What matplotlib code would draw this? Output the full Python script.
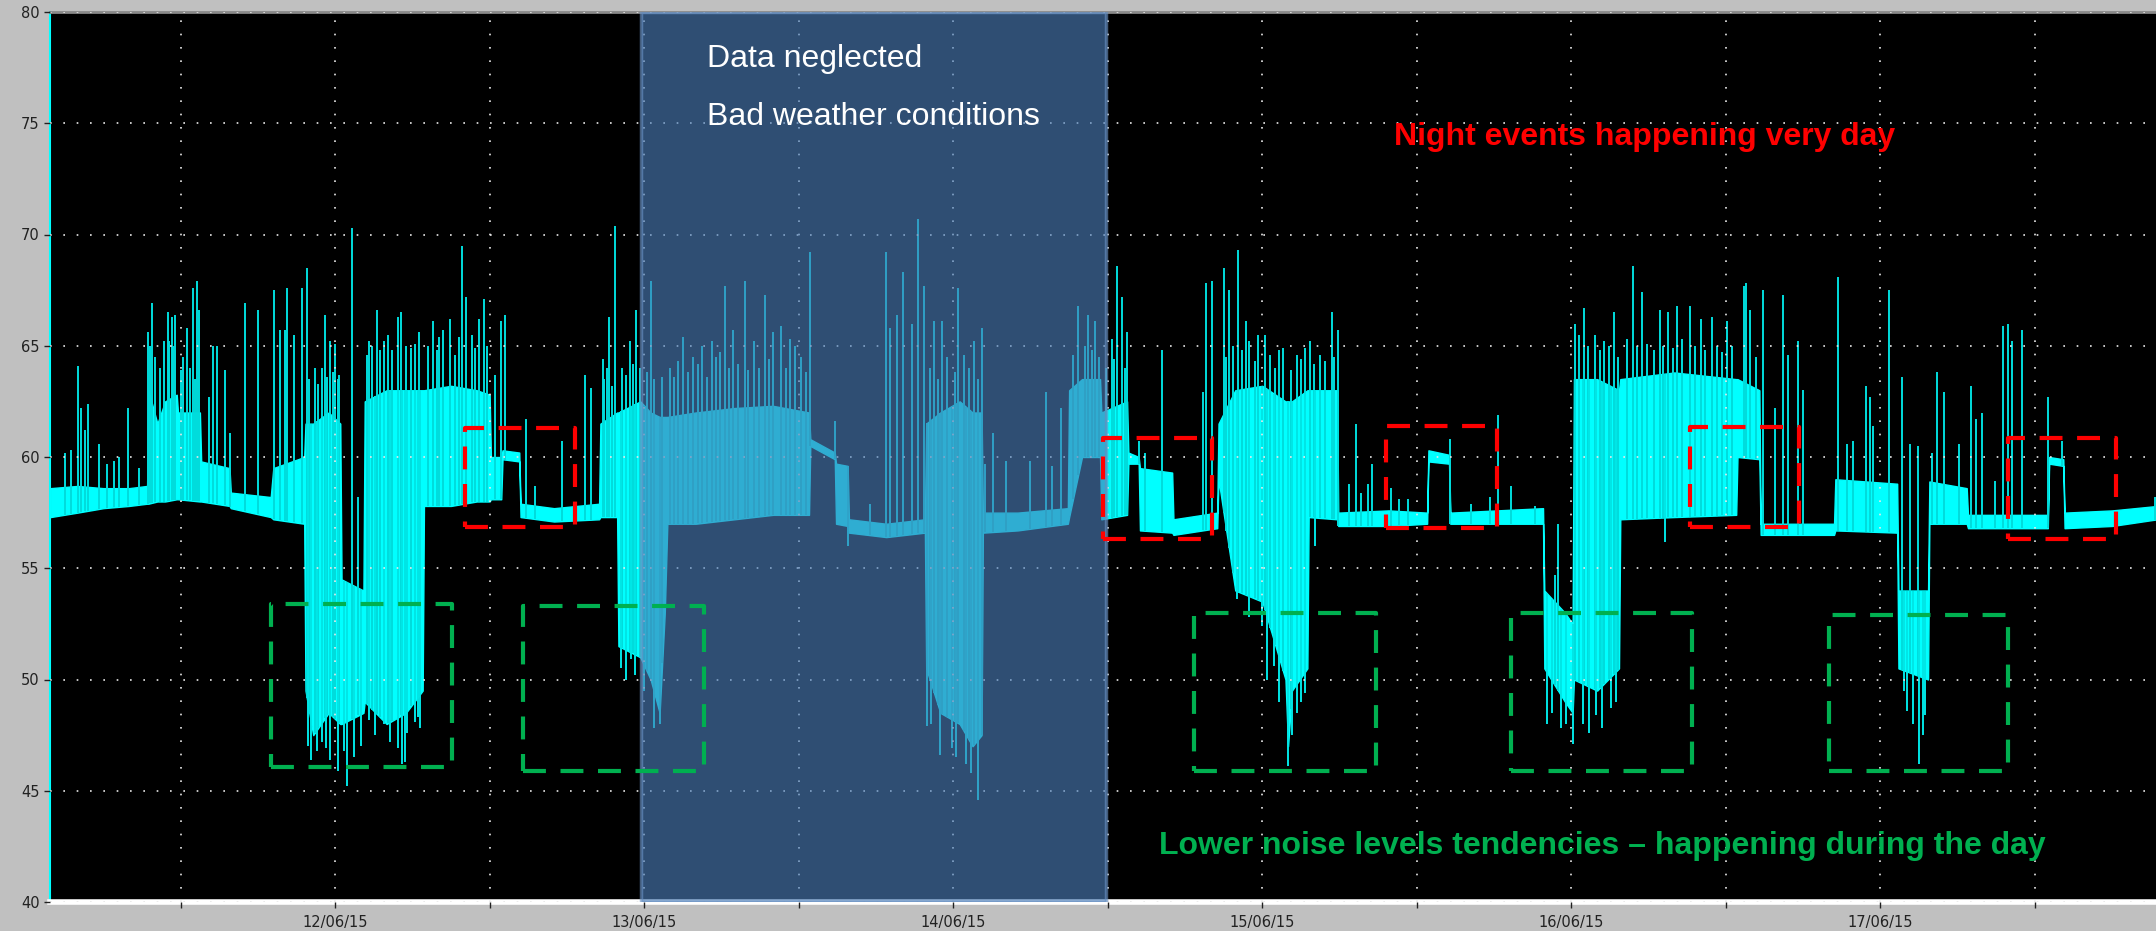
import numpy as np
import pandas as pd
import matplotlib
matplotlib.use("Agg")
import matplotlib.pyplot as plt
import matplotlib.dates as mdates

start = pd.Timestamp("2015-06-12 00:00")

# trace envelope: hours from 12/06/15 00:00, lower and upper edge of the dense trace (dB)
env_h = [-22.1, -20, -18, -16, -14.6, -14.5, -13.8, -13.2, -12.3, -12.2, -10.5, -10.4, -8.2, -8.1,
         -5.0, -4.8, -2.4, -2.3, -1.7, -0.5, 0.4, 0.5, 2.2, 2.3, 4.0, 5.5, 6.8, 6.9, 9.0, 11.0,
         12.0, 12.1, 12.9, 13.0, 14.3, 14.4, 17.0, 20.5, 20.6, 21.9, 22.0, 23.7, 24.5, 25.2, 25.6,
         25.8, 28.0, 31.0, 34.0, 36.8, 36.9, 38.8, 38.9, 39.8, 39.9, 42.8, 45.8, 45.9, 47.0, 48.5,
         49.5, 50.2, 50.3, 53.0, 56.9, 57.0, 58.0, 59.4, 59.5, 61.5, 61.6, 62.4, 62.5, 65.0, 65.1,
         68.5, 68.6, 69.9, 72.0, 73.8, 74.0, 74.3, 75.5, 75.6, 77.8, 77.9, 81.8, 84.8, 84.9, 86.5,
         86.6, 93.8, 93.9, 95.5, 96.1, 96.2, 98.0, 99.7, 99.8, 104.0, 108.8, 108.9, 110.6, 110.7,
         116.4, 116.5, 121.3, 121.4, 123.7, 123.8, 126.7, 126.8, 133.0, 133.1, 134.2, 134.3, 138.0,
         141.5]
env_lo = [57.3, 57.5, 57.7, 57.8, 57.9, 57.9, 58.0, 58.0, 58.1, 58.1, 58.0, 58.0, 57.8, 57.7,
          57.3, 57.2, 57.0, 49.5, 47.5, 48.5, 48.0, 48.0, 48.5, 49.0, 48.0, 48.5, 49.5, 57.8, 57.8, 58.0,
          58.0, 58.1, 58.1, 59.9, 59.8, 57.3, 57.1, 57.2, 57.3, 57.3, 51.5, 51.0, 50.0, 48.5, 53.0,
          57.0, 57.0, 57.2, 57.4, 57.4, 60.5, 59.9, 57.0, 56.9, 56.6, 56.4, 56.6, 50.5, 48.5, 48.0,
          47.0, 47.5, 56.6, 56.7, 57.0, 57.3, 60.0, 60.0, 57.2, 57.4, 59.7, 59.7, 56.7, 56.6, 56.5,
          56.8, 59.0, 54.0, 53.5, 50.0, 47.0, 49.5, 50.5, 57.3, 57.2, 56.9, 56.9, 57.0, 59.8, 59.7,
          57.0, 57.0, 50.5, 49.0, 48.5, 50.0, 49.5, 50.5, 57.2, 57.3, 57.4, 60.0, 59.9, 56.5,
          56.5, 56.7, 56.6, 50.5, 50.0, 57.0, 57.0, 56.8, 56.8, 59.7, 59.6, 56.8, 56.9,
          57.2]
env_hi = [58.6, 58.7, 58.6, 58.6, 58.7, 63.0, 61.5, 62.5, 62.8, 62.0, 62.0, 59.8, 59.5, 58.4,
          58.2, 59.5, 60.0, 61.5, 61.5, 62.0, 61.5, 54.5, 54.0, 62.5, 63.0, 63.0, 63.0, 63.0, 63.2, 63.0,
          62.8, 60.0, 60.0, 60.3, 60.2, 57.9, 57.7, 57.9, 61.5, 62.0, 62.0, 62.5, 62.0, 61.8, 61.8,
          61.8, 62.0, 62.2, 62.3, 62.0, 60.8, 60.2, 59.7, 59.6, 57.2, 57.0, 57.2, 61.5, 62.0, 62.5,
          62.0, 62.0, 57.5, 57.5, 57.7, 63.0, 63.5, 63.5, 62.0, 62.5, 60.2, 60.0, 59.5, 59.3, 57.2,
          57.5, 61.5, 63.0, 63.2, 62.5, 62.5, 62.5, 63.0, 63.0, 63.0, 57.5, 57.6, 57.5, 60.3, 60.1,
          57.5, 57.7, 54.0, 53.0, 52.5, 63.5, 63.5, 63.0, 63.5, 63.8, 63.5, 63.5, 63.0, 57.0,
          57.0, 59.0, 58.8, 54.0, 54.0, 58.9, 58.6, 57.4, 57.4, 60.0, 59.9, 57.5, 57.6,
          57.8]

# peaks above the trace (hour, dB)
peak_h = [-21.0, -20.5, -20.0, -19.7, -19.4, -19.2, -18.3, -17.7, -17.2, -16.8, -16.1, -15.2,
          -14.5, -14.4, -14.2, -14.0, -13.6, -13.3, -13.0, -12.9, -12.7, -12.55, -12.4, -12.0,
          -11.8, -11.5, -11.3, -11.05, -10.9, -10.7, -10.55, -9.8, -9.45, -9.2,
          -8.55, -8.15, -7.0, -5.95, -4.75, -4.25, -3.9, -3.7, -3.2, -2.55, -2.2, -2.0, -1.6,
          -1.3, -1.0, -0.8, -0.6, -0.4, -0.2, 0.0, 0.2, 0.3, 1.3, 1.8, 2.5, 2.6, 2.9, 3.25, 3.5,
          3.8, 4.1, 4.4, 4.85, 5.15, 5.5, 5.9, 6.2, 6.5, 7.2, 7.6, 7.9, 8.1, 8.4, 8.9, 9.3, 9.6,
          9.85, 10.2, 10.6, 10.9, 11.2, 11.55, 11.8, 12.4, 12.9, 13.2, 14.8, 15.5, 17.6, 19.4,
          19.9, 20.8, 20.9, 21.1, 21.3, 21.5, 21.7, 22.3, 22.6, 22.9, 23.1, 23.4, 23.7, 24.2,
          24.5, 24.8, 25.4, 26.0, 26.3, 26.6, 27.0, 27.4, 27.8, 28.2, 28.5, 28.9, 29.3, 29.6,
          29.9, 30.3, 30.6, 30.9, 31.3, 31.8, 32.1, 32.5, 32.9, 33.4, 33.7, 34.0, 34.6, 35.0,
          35.3, 35.7, 36.2, 36.6, 36.9, 38.8, 41.5, 42.8, 43.1, 43.6, 44.1, 44.8, 45.3, 45.7,
          46.2, 46.5, 46.8, 47.1, 47.5, 48.1, 48.4, 48.8, 49.2, 49.6, 49.9, 50.2, 50.5, 51.1,
          52.1, 54.0, 55.2, 55.7, 56.4, 57.3, 57.7, 58.2, 58.5, 58.8, 59.0, 59.3, 59.9, 60.3,
          60.5, 60.7, 61.1, 61.3, 61.5, 62.4, 62.9, 64.2, 67.4, 67.6, 68.1, 69.0, 69.2, 69.4,
          69.7, 70.1, 70.4, 70.7, 71.0, 71.4, 71.7, 72.2, 72.6, 73.0, 73.3, 73.6, 74.2, 74.7,
          75.0, 75.3, 75.7, 76.0, 76.5, 76.9, 77.4, 77.6, 77.9, 78.7, 79.3, 79.7, 80.2, 80.5,
          82.0, 82.6, 83.3, 86.6, 88.2, 89.7, 90.3, 91.3, 93.2, 94.7, 95.0, 96.3, 96.6, 97.0,
          97.3, 97.8, 98.2, 98.5, 98.9, 99.3, 99.6, 100.3, 100.8, 101.1, 101.5, 101.9, 102.4,
          102.9, 103.1, 103.5, 103.9, 104.2, 104.6, 105.2, 105.6, 106.1, 106.4, 106.9, 107.3,
          107.7, 108.1, 108.5, 109.4, 109.6, 109.9, 110.3, 110.9, 111.8, 112.4, 112.8, 113.6,
          114.0, 116.7, 117.4, 117.9, 118.9, 119.2, 119.4, 120.7, 121.7, 122.3, 122.9, 124.0,
          124.4, 124.9, 126.1, 127.0, 127.4, 127.9, 128.9, 129.5, 129.9, 130.2, 131.0, 133.0,
          134.1, 141.3]
peak_db = [60.2, 60.3, 64.1, 62.2, 61.2, 62.4, 60.6, 59.7, 59.8, 60.0, 62.2, 59.5,
           65.6, 65.0, 66.9, 64.5, 64.0, 65.2, 66.5, 65.2, 66.3, 65.0, 66.4, 63.9,
           64.5, 65.8, 64.0, 67.6, 63.5, 67.9, 66.6, 62.7, 65.0, 65.0,
           63.9, 61.1, 66.9, 66.6, 67.5, 65.7, 65.7, 67.6, 65.5, 67.6, 68.5, 63.5, 64.0,
           63.3, 64.0, 66.4, 63.6, 65.2, 63.8, 65.1, 63.5, 63.7, 70.3, 58.2, 64.6, 65.2, 65.0, 66.6, 64.8,
           65.2, 65.5, 64.8, 66.3, 66.5, 65.0, 64.9, 65.1, 65.6, 65.0, 66.1, 64.8, 65.4, 65.7, 66.2, 64.6, 65.4,
           69.5, 67.2, 65.5, 64.9, 66.2, 67.1, 65.0, 63.7, 66.1, 66.4, 61.7, 58.7, 60.7, 63.7,
           63.1, 64.4, 63.5, 64.0, 66.3, 63.2, 70.4, 64.0, 63.7, 65.2, 64.2, 66.6, 64.0, 63.8,
           67.9, 63.5, 63.6, 64.0, 63.6, 64.3, 65.4, 63.8, 64.5, 64.2, 65.0, 63.6, 65.2, 64.5,
           64.7, 67.7, 64.0, 65.7, 64.2, 67.9, 63.9, 65.2, 64.0, 67.3, 64.4, 65.6, 65.9, 64.0,
           65.3, 65.0, 64.5, 63.8, 69.2, 61.6, 57.9, 69.2, 65.8, 66.4, 68.3, 66.0, 70.7, 67.7,
           64.0, 66.1, 63.5, 66.1, 64.5, 63.8, 67.6, 64.6, 64.0, 65.2, 63.5, 65.8, 59.7, 61.1,
           59.8, 59.8, 62.9, 59.6, 62.2, 64.6, 66.8, 65.0, 66.4, 64.8, 66.1, 64.5, 64.0, 65.3,
           64.4, 68.6, 67.2, 64.0, 65.6, 60.7, 60.2, 64.8, 62.9, 67.8, 67.9, 68.5, 64.5, 67.5,
           65.0, 69.3, 64.8, 66.1, 65.2, 64.3, 65.5, 65.5, 64.6, 64.0, 64.8, 64.9, 63.9, 64.6,
           64.4, 64.9, 65.2, 64.2, 64.6, 64.3, 66.5, 64.5, 65.7, 58.8, 61.5, 58.4, 58.8, 59.7,
           58.6, 58.1, 58.1, 60.8, 57.9, 58.2, 61.9, 58.7, 57.8, 54.7, 57.0, 66.0, 65.5, 66.7,
           65.0, 65.5, 64.8, 65.2, 65.0, 66.5, 64.5, 65.3, 68.6, 65.0, 67.4, 65.1, 64.8,
           66.6, 65.0, 66.5, 64.9, 66.8, 65.3, 66.8, 65.0, 66.2, 64.8, 66.3, 65.0,
           64.7, 66.1, 65.0, 67.7, 67.8, 66.6, 64.5, 67.5, 62.2, 67.3, 64.6, 65.2,
           63.0, 68.1, 60.6, 60.7, 63.2, 62.7, 61.4, 67.5, 63.6, 60.6, 60.5, 60.2,
           63.8, 62.9, 60.6, 63.2, 61.7, 62.0, 58.9, 65.9, 66.0, 65.2, 65.7, 62.7,
           60.7, 58.2]

# drops below the trace (hour, dB)
dip_h = [-2.1, -1.9, -1.4, -1.0, -0.7, -0.4, 0.2, 0.7, 0.95, 1.5, 2.0, 2.6, 3.1, 3.8, 4.3, 4.9,
         5.2, 5.4, 5.6, 6.2, 6.4, 6.6, 22.2, 22.6, 23.0, 23.3, 24.0, 24.8, 25.2, 39.8, 45.95,
         46.3, 47.0, 47.9, 48.2, 49.0, 49.4, 49.95, 70.0, 71.0, 72.0, 72.4, 72.9, 73.3, 74.0,
         74.3, 74.7, 75.0, 75.3, 76.1, 94.1, 94.5, 95.2, 95.6, 96.1, 96.9, 97.4, 97.9, 98.4,
         99.1, 99.5, 103.3, 121.8, 122.1, 122.5, 123.0, 123.3, 123.5]
dip_db = [47.0, 46.4, 46.8, 47.2, 46.9, 46.4, 45.9, 46.8, 45.2, 46.5, 47.0, 48.2, 47.5, 48.0, 47.2, 46.9,
          46.2, 46.3, 47.6, 48.1, 48.3, 47.8, 50.5, 50.0, 50.9, 50.2, 49.5, 47.8, 48.0, 56.0, 47.9,
          48.0, 46.6, 46.9, 46.5, 46.2, 45.8, 44.6, 53.6, 52.8, 52.4, 50.0, 50.6, 49.0, 46.1,
          47.5, 48.5, 49.0, 49.4, 56.0, 48.0, 48.5, 47.8, 48.0, 47.1, 48.0, 47.6, 48.4, 47.8,
          48.7, 49.0, 56.2, 49.5, 48.6, 48.0, 46.2, 47.5, 48.4]

# annotation boxes (hours, dB)
night_from = [10.1, 59.65, 81.6, 105.2, 129.9]
night_to = [18.64, 68.1, 90.2, 113.7, 138.3]
night_lo = [56.85, 56.3, 56.8, 56.85, 56.3]
night_hi = [61.3, 60.85, 61.4, 61.35, 60.85]
day_from = [-4.97, 14.6, 66.7, 91.3, 116.0]
day_to = [9.09, 28.66, 80.8, 105.4, 129.9]
day_lo = [46.07, 45.9, 45.9, 45.9, 45.9]
day_hi = [53.4, 53.3, 53.0, 53.0, 52.9]

neglected_from, neglected_to = 23.75, 59.85


def to_time(hours):
    return start + pd.to_timedelta(np.asarray(hours, dtype=float), unit="h")


fig = plt.figure(figsize=(21.56, 9.31), dpi=100, facecolor="#c0c0c0")
ax = fig.add_axes([50 / 2156, 1 - 902 / 931, 1 - 50 / 2156, 890 / 931])
ax.set_facecolor("black")

# trace
ax.fill_between(to_time(env_h), env_lo, env_hi, color="#00ffff", lw=1.0, zorder=1)
ax.vlines(to_time(peak_h), np.interp(peak_h, env_h, env_lo), peak_db,
          color="#00dcdc", lw=1.4, zorder=1.2)
ax.vlines(to_time(dip_h), dip_db, np.interp(dip_h, env_h, env_hi),
          color="#00e6e6", lw=1.4, zorder=1.2)

# neglected period
ax.axvspan(to_time([neglected_from])[0], to_time([neglected_to])[0],
           facecolor="#4b7db8", edgecolor="#6a92c4", lw=2.5, alpha=0.63, zorder=3)

# dashed boxes
for t0, t1, lo, hi in zip(night_from, night_to, night_lo, night_hi):
    ax.plot(to_time([t0, t1, t1, t0, t0]), [lo, lo, hi, hi, lo], color="#ff0000",
            lw=3, ls=(0, (5.5, 3.5)), zorder=4)
for t0, t1, lo, hi in zip(day_from, day_to, day_lo, day_hi):
    ax.plot(to_time([t0, t1, t1, t0, t0]), [lo, lo, hi, hi, lo], color="#00b050",
            lw=3, ls=(0, (5.5, 3.5)), zorder=4)

# text
ax.text(to_time([28.9])[0], 77.9, "Data neglected", color="white", fontsize=23,
        family="Liberation Sans", va="center", ha="left", zorder=5)
ax.text(to_time([28.9])[0], 75.3, "Bad weather conditions", color="white", fontsize=23,
        family="Liberation Sans", va="center", ha="left", zorder=5)
ax.text(to_time([82.25])[0], 74.4, "Night events happening very day", color="#ff0000",
        fontsize=23, fontweight="bold", family="Liberation Sans", va="center", ha="left", zorder=5)
ax.text(to_time([64.0])[0], 42.5, "Lower noise levels tendencies \u2013 happening during the day",
        color="#00b050", fontsize=23, fontweight="bold", family="Liberation Sans",
        va="center", ha="left", zorder=5)

# axes
ax.set_xlim(to_time([-22.14])[0], to_time([141.4])[0])
ax.set_ylim(40, 80)
ax.set_yticks(np.arange(40, 81, 5))
ax.xaxis.set_major_locator(mdates.DayLocator())
ax.xaxis.set_major_formatter(mdates.DateFormatter("%d/%m/%y"))
ax.xaxis.set_minor_locator(mdates.HourLocator(byhour=[12]))
ax.tick_params(axis="both", which="both", colors="#222222", labelsize=10.5, length=4, width=1)
ax.tick_params(axis="x", which="major", pad=5)

ax.set_axisbelow(False)
ax.grid(which="major", color="#e8e8e8", ls=(0, (1, 7)), lw=1.2)
ax.grid(which="minor", axis="x", color="#e8e8e8", ls=(0, (1, 7)), lw=1.2)

ax.spines["left"].set_color("#00ffff")
ax.spines["left"].set_linewidth(1.5)
ax.spines["bottom"].set_color("white")
ax.spines["bottom"].set_linewidth(4)
ax.spines["top"].set_color("#8a8a8a")
ax.spines["top"].set_linewidth(2)
ax.spines["right"].set_visible(False)

fig.savefig("out.png", dpi=100, facecolor=fig.get_facecolor())
